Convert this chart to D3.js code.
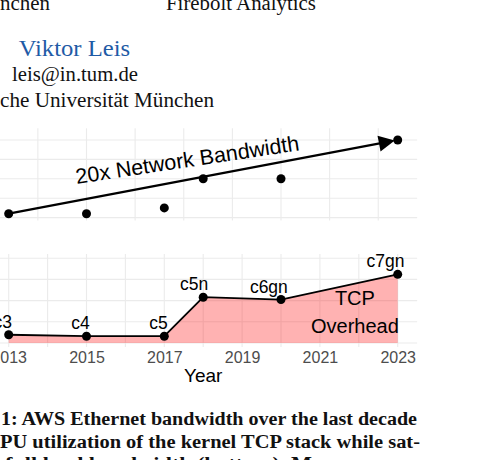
<!DOCTYPE html>
<html><head><meta charset="utf-8">
<script src="https://cdn.jsdelivr.net/npm/d3@7"></script>
<style>
html,body{margin:0;padding:0;background:#fff;overflow:hidden;}
svg{display:block;}
</style></head>
<body>
<svg id="c" width="480" height="460"></svg>
<script>
// ---- data ----
const years = [2013, 2015, 2017, 2018, 2020, 2023];
const instances = ["c3", "c4", "c5", "c5n", "c6gn", "c7gn"];
const bandwidthGbps = [10, 10, 25, 100, 100, 200];
const tcpCpu = [3.9, 3.2, 3.2, 21.6, 20.5, 32.4];
const yearTicks = [2013, 2015, 2017, 2019, 2021, 2023];
const bottomGridYears = [2013, 2014, 2015, 2016, 2017, 2018, 2019, 2020, 2021, 2022, 2023];
const topGridYears = [2013.75, 2015, 2016.25, 2017.5, 2018.75, 2020, 2021.25, 2022.5];
const topGridValues = [0, 50, 100, 150, 200];
const bottomGridValues = [0, 10, 20, 30, 40];
const headerLines = [
  {text: "nchen", x: 0, y: 9.5, w: 50, size: 20, color: "#111"},
  {text: "Firebolt Analytics", x: 166, y: 9.5, w: 150, size: 20, color: "#111"},
  {text: "Viktor Leis", x: 18.7, y: 56, w: 111.5, size: 23.5, color: "#1f5ba6"},
  {text: "leis@in.tum.de", x: 12, y: 81, w: 126, size: 20, color: "#111"},
  {text: "che Universität München", x: 0, y: 106.5, w: 214, size: 20.5, color: "#111"}
];
const captionLines = [
  {text: "1: AWS Ethernet bandwidth over the last decade", x: 1, y: 425, w: 416},
  {text: "PU utilization of the kernel TCP stack while sat-", x: 0, y: 447.5, w: 420},
  {text: "full load bandwidth (bottom). Mo", x: 5, y: 469.5, w: 318}
];

const svg = d3.select("#c");
svg.append("rect").attr("width", 480).attr("height", 460).attr("fill", "#fff");

// ---- header / caption (serif page text) ----
const serif = "'Liberation Serif','DejaVu Serif',serif";
svg.selectAll("text.hdr").data(headerLines).join("text")
  .attr("class", "hdr")
  .attr("x", d => d.x).attr("y", d => d.y)
  .attr("textLength", d => d.w).attr("lengthAdjust", "spacingAndGlyphs")
  .style("font-family", serif).style("font-size", d => d.size + "px")
  .attr("fill", d => d.color).text(d => d.text);

svg.selectAll("text.cap").data(captionLines).join("text")
  .attr("class", "cap")
  .attr("x", d => d.x).attr("y", d => d.y)
  .attr("textLength", d => d.w).attr("lengthAdjust", "spacingAndGlyphs")
  .style("font-family", serif).style("font-weight", "bold").style("font-size", "18px")
  .attr("fill", "#111").text(d => d.text);

// ---- scales ----
const x = d3.scaleLinear().domain([2013, 2023]).range([8.7, 397.7]);
const panelX0 = x(2012.5), panelX1 = x(2023.5);
const yTop = d3.scaleLinear().domain([0, 200]).range([217.6, 140]);
const yBot = d3.scaleLinear().domain([0, 40]).range([343, 258.2]);
const topPanel = [128.3, 220.5];
const botPanel = [254, 347];
const sans = "'Liberation Sans','Arial',sans-serif";
const grid = "#ebebeb";

// ---- top panel grid ----
const gTop = svg.append("g");
gTop.selectAll("line.h").data(topGridValues).join("line")
  .attr("x1", panelX0).attr("x2", panelX1)
  .attr("y1", d => yTop(d)).attr("y2", d => yTop(d))
  .attr("stroke", grid).attr("stroke-width", 1.1);
gTop.selectAll("line.v").data(topGridYears).join("line")
  .attr("x1", d => x(d)).attr("x2", d => x(d))
  .attr("y1", topPanel[0]).attr("y2", topPanel[1])
  .attr("stroke", grid).attr("stroke-width", 1.1);

// ---- bottom panel grid ----
const gBot = svg.append("g");
gBot.selectAll("line.h").data(bottomGridValues).join("line")
  .attr("x1", panelX0).attr("x2", panelX1)
  .attr("y1", d => yBot(d)).attr("y2", d => yBot(d))
  .attr("stroke", grid).attr("stroke-width", 1.1);
gBot.selectAll("line.v").data(bottomGridYears).join("line")
  .attr("x1", d => x(d)).attr("x2", d => x(d))
  .attr("y1", botPanel[0]).attr("y2", botPanel[1])
  .attr("stroke", grid).attr("stroke-width", 1.1);

// ---- top panel: bandwidth arrow + points ----
const bw = years.map((yr, i) => ({yr, v: bandwidthGbps[i]}));
const p0 = [x(years[0]), yTop(bandwidthGbps[0])];
const p1 = [x(years[years.length - 1]), yTop(bandwidthGbps[bandwidthGbps.length - 1])];
const dx = p1[0] - p0[0], dy = p1[1] - p0[1], len = Math.hypot(dx, dy);
const ux = dx / len, uy = dy / len;
const tip = [p1[0] - ux * 3, p1[1] - uy * 3];
const base = [tip[0] - ux * 16, tip[1] - uy * 16];
const hw = 8;
gTop.append("line")
  .attr("x1", p0[0]).attr("y1", p0[1]).attr("x2", base[0] + ux * 2).attr("y2", base[1] + uy * 2)
  .attr("stroke", "#000").attr("stroke-width", 2.3);
gTop.append("path")
  .attr("d", d3.line()([tip, [base[0] - uy * hw, base[1] + ux * hw], [base[0] + uy * hw, base[1] - ux * hw]]) + "Z")
  .attr("fill", "#000");
gTop.selectAll("circle").data(bw).join("circle")
  .attr("cx", d => x(d.yr)).attr("cy", d => yTop(d.v)).attr("r", 4.5).attr("fill", "#000");
gTop.append("text")
  .attr("transform", `translate(${x(2017.62)},${yTop(130.3)}) rotate(-8.6)`)
  .attr("text-anchor", "middle")
  .style("font-family", sans).style("font-size", "21.5px").attr("fill", "#000")
  .text("20x Network Bandwidth");

// ---- bottom panel: TCP overhead area ----
const cpu = years.map((yr, i) => ({yr, v: tcpCpu[i], name: instances[i]}));
gBot.append("path").datum(cpu)
  .attr("d", d3.area().x(d => x(d.yr)).y0(yBot(0)).y1(d => yBot(d.v)))
  .attr("fill", "red").attr("fill-opacity", 0.3);
gBot.append("path").datum(cpu)
  .attr("d", d3.line().x(d => x(d.yr)).y(d => yBot(d.v)))
  .attr("fill", "none").attr("stroke", "#000").attr("stroke-width", 1.8);
gBot.selectAll("circle").data(cpu).join("circle")
  .attr("cx", d => x(d.yr)).attr("cy", d => yBot(d.v)).attr("r", 4.5).attr("fill", "#000");
const labels = gBot.selectAll("text.lbl").data(cpu).join("text")
  .attr("class", "lbl")
  .attr("y", d => yBot(d.v) - 7)
  .style("font-family", sans).style("font-size", "17.5px").attr("fill", "#000")
  .text(d => d.name);
labels.attr("x", function(d) { return x(d.yr) - 0.82 * this.getComputedTextLength(); });

gBot.append("text").attr("x", x(2021.9)).attr("y", yBot(17.7))
  .attr("text-anchor", "middle").style("font-family", sans).style("font-size", "20px")
  .text("TCP");
gBot.append("text").attr("x", x(2021.9)).attr("y", yBot(4.6))
  .attr("text-anchor", "middle").style("font-family", sans).style("font-size", "20px")
  .text("Overhead");

// ---- x axis ----
const ax = svg.append("g").attr("transform", "translate(0,349)")
  .call(d3.axisBottom(x).tickValues(yearTicks).tickFormat(d3.format("d")).tickSize(0).tickPadding(3));
ax.select(".domain").remove();
ax.selectAll("text").style("font-family", sans).style("font-size", "16px").attr("fill", "#4d4d4d");
svg.append("text").attr("x", x(2018)).attr("y", 382).attr("text-anchor", "middle")
  .style("font-family", sans).style("font-size", "19px").attr("fill", "#000").text("Year");
</script>
</body></html>
